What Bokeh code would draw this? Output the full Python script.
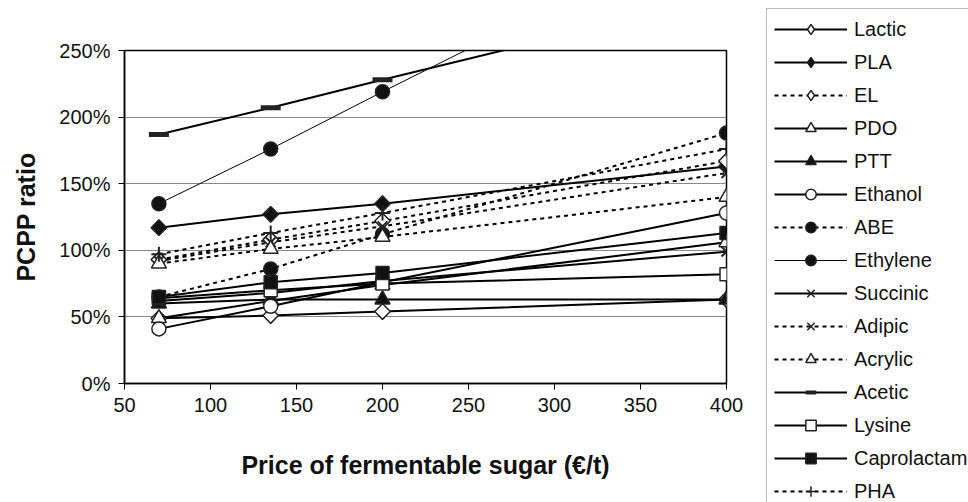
import numpy as np
from bokeh.plotting import figure
from bokeh.models import ColumnDataSource, Legend, LegendItem, NumeralTickFormatter, FixedTicker, Range1d
from bokeh.embed import file_html
from bokeh.resources import INLINE

# Sugar prices (EUR/t)
price = [70, 135, 200, 400]

# PCPP ratio values in percent
lactic      = [49, 51, 54, 63]
pla         = [117, 127, 135, 163]
el          = [93, 108, 122, 167]
pdo         = [49, 62, 74, 106]
ptt         = [60, 63, 63, 63]
ethanol     = [41, 58, 76, 128]
abe         = [65, 86, 112, 188]
ethylene    = [135, 176, 219, 348]
succinic    = [62, 68, 77, 99]
adipic      = [92, 106, 118, 158]
acrylic     = [90, 101, 110, 140]
acetic      = [187, 207, 228, 291]
lysine      = [64, 70, 75, 82]
caprolactam = [65, 76, 83, 113]
pha         = [97, 113, 128, 176]

names = ["Lactic", "PLA", "EL", "PDO", "PTT", "Ethanol", "ABE", "Ethylene",
         "Succinic", "Adipic", "Acrylic", "Acetic", "Lysine", "Caprolactam", "PHA"]
series = [lactic, pla, el, pdo, ptt, ethanol, abe, ethylene,
          succinic, adipic, acrylic, acetic, lysine, caprolactam, pha]

# style per series: (marker, filled, dotted, line_width, size)
styles = {
    "Lactic": ("diamond", False, False, 2, 11),
    "PLA": ("diamond", True, False, 2, 11),
    "EL": ("diamond", False, True, 2, 11),
    "PDO": ("triangle", False, False, 2, 15),
    "PTT": ("triangle", True, False, 2, 15),
    "Ethanol": ("circle", False, False, 2, 14),
    "ABE": ("circle", True, True, 2, 14),
    "Ethylene": ("circle", True, False, 1, 14),
    "Succinic": ("x", False, False, 2, 14),
    "Adipic": ("x", False, True, 2, 14),
    "Acrylic": ("triangle", False, True, 2, 15),
    "Acetic": ("dash", True, False, 2, 20),
    "Lysine": ("square", False, False, 2, 13),
    "Caprolactam": ("square", True, False, 2, 13),
    "PHA": ("cross", False, True, 2, 15),
}


def draw_series(fig, name, src, for_legend=False):
    marker, filled, dotted, lw, size = styles[name]
    ln = fig.line("x", "y", source=src, line_color="black", line_width=lw,
                  line_dash="4 4" if dotted else "solid")
    angle = 0.0
    m = marker
    if marker == "diamond" and not for_legend:
        m = "square"
        angle = np.pi / 4
    if m == "dash":
        sc = fig.scatter("x", "y", source=src, marker="dash", size=size,
                         line_color="#222222", line_width=4 if for_legend else 5)
    elif m in ("x", "cross"):
        sc = fig.scatter("x", "y", source=src, marker=m, size=size,
                         line_color="#222222", line_width=2 if not for_legend else 1.5)
    else:
        sc = fig.scatter("x", "y", source=src, marker=m, size=size, angle=angle,
                         line_color="#222222", line_width=1.5,
                         fill_color="#111111" if filled else "white")
    return ln, sc


p = figure(frame_width=602, frame_height=333, output_backend="svg", toolbar_location=None,
           x_range=Range1d(50, 400), y_range=Range1d(0, 2.5),
           min_border_left=124, min_border_right=0, min_border_top=50, min_border_bottom=119)
p.background_fill_color = "white"
p.border_fill_color = "white"
p.outline_line_color = "black"
p.outline_line_width = 1.5

# data renderers
for name, vals in zip(names, series):
    src = ColumnDataSource(dict(x=price, y=np.array(vals) / 100.0))
    draw_series(p, name, src)

# legend proxies (no visible points; only used to draw legend swatches)
items = []
for name in names:
    proxy = ColumnDataSource(dict(x=price, y=[np.nan] * len(price)))
    ln, sc = draw_series(p, name, proxy, for_legend=True)
    items.append(LegendItem(label=name, renderers=[ln, sc]))

p.xgrid.visible = False
p.ygrid.grid_line_color = "#888888"
p.ygrid.grid_line_width = 1
p.ygrid.ticker = FixedTicker(ticks=[0.5, 1.0, 1.5, 2.0])

p.xaxis.ticker = FixedTicker(ticks=[50, 100, 150, 200, 250, 300, 350, 400])
p.yaxis.ticker = FixedTicker(ticks=[0, 0.5, 1.0, 1.5, 2.0, 2.5])
p.yaxis.formatter = NumeralTickFormatter(format="0%")

for ax in (p.xaxis[0], p.yaxis[0]):
    ax.axis_line_color = "black"
    ax.axis_line_width = 1.5
    ax.major_tick_line_color = "black"
    ax.major_tick_out = 6
    ax.major_tick_in = 0
    ax.minor_tick_line_color = None
    ax.major_label_text_font = "Liberation Sans"
    ax.major_label_text_font_size = "20px"
    ax.major_label_text_color = "#111111"
    ax.axis_label_text_font = "Liberation Sans"
    ax.axis_label_text_font_style = "bold"
    ax.axis_label_text_font_size = "25px"
    ax.axis_label_text_color = "#111111"

p.xaxis.axis_label = "Price of fermentable sugar (€/t)"
p.yaxis.axis_label = "PCPP ratio"
p.xaxis.major_label_standoff = 8
p.xaxis.axis_label_standoff = 36
p.yaxis.major_label_standoff = 8
p.yaxis.axis_label_standoff = 16

legend = Legend(items=items, location=(40, -129))
legend.label_text_font = "Liberation Sans"
legend.label_text_font_size = "20px"
legend.label_text_color = "#111111"
legend.label_standoff = 7
legend.glyph_width = 73
legend.glyph_height = 26
legend.label_height = 26
legend.spacing = 7
legend.padding = 7
legend.margin = 0
legend.border_line_color = "#777777"
legend.border_line_width = 1
legend.background_fill_alpha = 1
p.add_layout(legend, "right")

open("out.html", "w").write(file_html(p, INLINE))
